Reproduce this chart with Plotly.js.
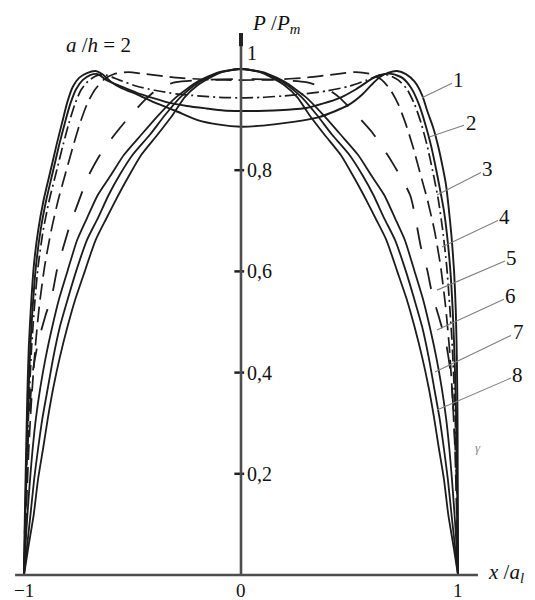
<!DOCTYPE html>
<html>
<head>
<meta charset="utf-8">
<script src="https://cdn.plot.ly/plotly-3.0.1.min.js"></script>
<style>
  html, body { margin: 0; padding: 0; background: #fff; }
  #chart { width: 535px; height: 600px; }
</style>
</head>
<body>
<div id="chart"></div>
<script>
// Pressure distribution P/Pm along x/a_l, a/h = 2, curves 1-8

// Curve 1: solid, outermost, deepest central dip
const c1x = [-1, -0.996, -0.99, -0.985, -0.978, -0.968, -0.955, -0.935, -0.91, -0.88, -0.85, -0.825, -0.8, -0.775, -0.745, -0.71, -0.67, -0.64, -0.6, -0.55, -0.48, -0.4, -0.3, -0.2, -0.1, 0,
             0.1, 0.18, 0.28, 0.36, 0.43, 0.5, 0.56, 0.6, 0.64, 0.68, 0.72, 0.76, 0.8, 0.835, 0.86, 0.885, 0.91, 0.93, 0.945, 0.956, 0.97, 0.982, 0.99, 0.995, 0.998, 1];
const c1y = [0, 0.12, 0.25, 0.35, 0.45, 0.53, 0.61, 0.68, 0.74, 0.795, 0.85, 0.893, 0.935, 0.965, 0.983, 0.992, 0.996, 0.99, 0.975, 0.962, 0.95, 0.934, 0.917, 0.899, 0.89, 0.886,
             0.888, 0.892, 0.898, 0.905, 0.916, 0.93, 0.95, 0.968, 0.984, 0.993, 0.996, 0.99, 0.975, 0.948, 0.915, 0.885, 0.845, 0.805, 0.77, 0.73, 0.67, 0.6, 0.52, 0.42, 0.3, 0];

// Curve 2: solid, second M-shaped curve
const c2x = [-1, -0.994, -0.987, -0.98, -0.971, -0.96, -0.945, -0.924, -0.898, -0.868, -0.838, -0.812, -0.786, -0.76, -0.73, -0.695, -0.66, -0.62, -0.55, -0.48, -0.4, -0.33, -0.25, -0.16, -0.08, 0,
             0.08, 0.15, 0.23, 0.3, 0.38, 0.456, 0.53, 0.608, 0.66, 0.7, 0.745, 0.785, 0.82, 0.85, 0.875, 0.9, 0.918, 0.935, 0.95, 0.965, 0.976, 0.985, 0.992, 0.997, 1];
const c2y = [0, 0.12, 0.25, 0.35, 0.45, 0.53, 0.61, 0.68, 0.74, 0.795, 0.85, 0.893, 0.932, 0.96, 0.978, 0.988, 0.99, 0.978, 0.965, 0.953, 0.942, 0.933, 0.927, 0.922, 0.918, 0.917,
             0.917, 0.918, 0.92, 0.923, 0.932, 0.943, 0.96, 0.982, 0.99, 0.99, 0.982, 0.962, 0.93, 0.89, 0.85, 0.8, 0.76, 0.72, 0.67, 0.6, 0.52, 0.42, 0.3, 0.15, 0];

// Curve 3: dash-dot
const c3x = [-1, -0.993, -0.985, -0.976, -0.965, -0.952, -0.935, -0.912, -0.884, -0.852, -0.82, -0.793, -0.766, -0.738, -0.705, -0.665, -0.62, -0.56, -0.48, -0.4, -0.3, -0.2, -0.1, 0,
             0.1, 0.2, 0.3, 0.4, 0.5, 0.58, 0.64, 0.68, 0.725, 0.765, 0.8, 0.83, 0.857, 0.885, 0.91, 0.93, 0.948, 0.962, 0.974, 0.984, 0.991, 0.996, 1];
const c3y = [0, 0.12, 0.25, 0.35, 0.45, 0.53, 0.61, 0.68, 0.74, 0.795, 0.85, 0.893, 0.93, 0.958, 0.976, 0.987, 0.988, 0.978, 0.966, 0.958, 0.951, 0.947, 0.944, 0.943,
             0.944, 0.947, 0.951, 0.957, 0.966, 0.978, 0.988, 0.988, 0.978, 0.96, 0.93, 0.893, 0.85, 0.795, 0.74, 0.68, 0.61, 0.53, 0.45, 0.35, 0.25, 0.12, 0];

// Curve 4: dashed, nearly flat top
const c4x = [-1, -0.99, -0.978, -0.965, -0.948, -0.93, -0.905, -0.875, -0.843, -0.808, -0.772, -0.742, -0.71, -0.675, -0.635, -0.585, -0.52, -0.44, -0.3, -0.15, 0,
             0.15, 0.3, 0.44, 0.53, 0.6, 0.65, 0.69, 0.725, 0.758, 0.79, 0.825, 0.86, 0.892, 0.92, 0.943, 0.96, 0.975, 0.986, 0.994, 1];
const c4y = [0, 0.12, 0.25, 0.35, 0.45, 0.53, 0.61, 0.68, 0.74, 0.795, 0.85, 0.893, 0.93, 0.958, 0.978, 0.99, 0.994, 0.99, 0.983, 0.979, 0.978,
             0.979, 0.983, 0.99, 0.994, 0.99, 0.978, 0.958, 0.93, 0.893, 0.85, 0.795, 0.74, 0.68, 0.61, 0.53, 0.45, 0.35, 0.25, 0.12, 0];

// Curve 5: long dashes, flat-topped bell
const c5x = [-1, -0.996, -0.988, -0.975, -0.96, -0.935, -0.903, -0.871, -0.848, -0.82, -0.788, -0.751, -0.705, -0.65, -0.59, -0.52, -0.44, -0.38, -0.3, -0.15, 0,
             0.15, 0.3, 0.4, 0.45, 0.502, 0.604, 0.696, 0.78, 0.83, 0.858, 0.882, 0.912, 0.944, 0.966, 0.98, 0.992, 1];
const c5y = [0, 0.1, 0.2, 0.32, 0.4, 0.46, 0.51, 0.553, 0.603, 0.646, 0.692, 0.735, 0.787, 0.83, 0.866, 0.903, 0.94, 0.962, 0.974, 0.979, 0.98,
             0.979, 0.974, 0.96, 0.945, 0.923, 0.875, 0.816, 0.75, 0.646, 0.603, 0.553, 0.51, 0.46, 0.4, 0.32, 0.2, 0];

// Curves 6-8: solid bell curves with the maximum at the centre
const c6x = [-1, -0.993, -0.984, -0.972, -0.96, -0.945, -0.925, -0.9, -0.87, -0.84, -0.8, -0.755, -0.71, -0.66, -0.6, -0.54, -0.46, -0.38, -0.3, -0.2, -0.1, 0,
             0.1, 0.2, 0.3, 0.38, 0.46, 0.54, 0.6, 0.66, 0.71, 0.755, 0.8, 0.84, 0.87, 0.9, 0.925, 0.945, 0.96, 0.972, 0.984, 0.993, 1];
const c6y = [0, 0.06, 0.12, 0.19, 0.25, 0.31, 0.37, 0.43, 0.49, 0.543, 0.6, 0.662, 0.705, 0.751, 0.79, 0.83, 0.87, 0.909, 0.944, 0.975, 0.994, 1,
             0.994, 0.975, 0.944, 0.909, 0.87, 0.83, 0.79, 0.751, 0.705, 0.662, 0.6, 0.543, 0.49, 0.43, 0.37, 0.31, 0.25, 0.19, 0.12, 0.06, 0];

const c7x = [-1, -0.985, -0.97, -0.953, -0.935, -0.915, -0.89, -0.865, -0.835, -0.8, -0.76, -0.71, -0.66, -0.61, -0.56, -0.5, -0.42, -0.35, -0.28, -0.2, -0.1, 0,
             0.1, 0.2, 0.28, 0.35, 0.42, 0.5, 0.56, 0.61, 0.66, 0.71, 0.76, 0.8, 0.835, 0.865, 0.89, 0.915, 0.935, 0.953, 0.97, 0.985, 1];
const c7y = [0, 0.06, 0.12, 0.19, 0.25, 0.31, 0.37, 0.43, 0.49, 0.543, 0.6, 0.662, 0.705, 0.751, 0.79, 0.83, 0.87, 0.909, 0.944, 0.972, 0.993, 1,
             0.993, 0.972, 0.944, 0.909, 0.87, 0.83, 0.79, 0.751, 0.705, 0.662, 0.6, 0.543, 0.49, 0.43, 0.37, 0.31, 0.25, 0.19, 0.12, 0.06, 0];

const c8x = [-1, -0.978, -0.955, -0.935, -0.912, -0.89, -0.865, -0.835, -0.8, -0.765, -0.72, -0.67, -0.62, -0.565, -0.515, -0.46, -0.385, -0.315, -0.26, -0.2, -0.1, 0,
             0.1, 0.2, 0.26, 0.315, 0.385, 0.46, 0.515, 0.565, 0.62, 0.67, 0.72, 0.765, 0.8, 0.835, 0.865, 0.89, 0.912, 0.935, 0.955, 0.978, 1];
const c8y = [0, 0.06, 0.12, 0.19, 0.25, 0.31, 0.37, 0.43, 0.49, 0.543, 0.6, 0.662, 0.705, 0.751, 0.79, 0.83, 0.87, 0.909, 0.944, 0.968, 0.992, 1,
             0.992, 0.968, 0.944, 0.909, 0.87, 0.83, 0.79, 0.751, 0.705, 0.662, 0.6, 0.543, 0.49, 0.43, 0.37, 0.31, 0.25, 0.19, 0.12, 0.06, 0];

// Curve numbers with the point each leader line touches and the label offset (px)
const curveNames = ['1', '2', '3', '4', '5', '6', '7', '8'];
const leaderX = [0.834, 0.871, 0.903, 0.926, 0.903, 0.903, 0.894, 0.903];
const leaderY = [0.943, 0.866, 0.751, 0.648, 0.563, 0.484, 0.401, 0.326];
const labelDx = [37, 41, 51, 63, 75, 74, 83, 81];
const labelDy = [-18, -14, -26, -30, -32, -34, -40, -35];

// Axis tick labels
const yTickVals = [0.2, 0.4, 0.6, 0.8];
const yTickText = ['0,2', '0,4', '0,6', '0,8'];
const yTopLabel = '1';
const xTickVals = [-1, 0, 1];
const xTickText = ['\u22121', '0', '1'];

const INK = '#1c1c1c';
const SERIF = "'Liberation Serif', 'Times New Roman', serif";

function curve(x, y, dash, width) {
  return {
    x: x, y: y, type: 'scatter', mode: 'lines',
    line: { color: INK, width: width || 1.8, dash: dash || 'solid', shape: 'spline', smoothing: 0.6 },
    hoverinfo: 'skip', showlegend: false
  };
}

const traces = [
  curve(c1x, c1y, 'solid', 1.9),
  curve(c2x, c2y, 'solid', 1.9),
  curve(c3x, c3y, '12px,4px,2px,4px', 1.7),
  curve(c4x, c4y, '16px,7px', 1.7),
  curve(c5x, c5y, '22px,19px', 1.8),
  curve(c6x, c6y, 'solid', 1.8),
  curve(c7x, c7y, 'solid', 1.8),
  curve(c8x, c8y, 'solid', 1.8),
  {
    // small ticks on the vertical axis
    x: yTickVals.map(() => -0.008), y: yTickVals, type: 'scatter', mode: 'markers',
    marker: { symbol: 'line-ew', size: 7, line: { color: '#222', width: 2.5 } },
    hoverinfo: 'skip', showlegend: false
  }
];

const annotations = [];

function note(x, y, text, size, xanchor, color, ref) {
  return {
    x: x, y: y, xref: ref ? 'paper' : 'x', yref: ref ? 'paper' : 'y', text: text, showarrow: false,
    xanchor: xanchor || 'center', yanchor: 'middle',
    font: { family: SERIF, size: size, color: color || '#111' }
  };
}

// y tick labels, to the right of the axis
yTickVals.forEach((v, i) => annotations.push(note(0.02, v, yTickText[i], 20, 'left')));
// the "1" label at the top of the P/Pm axis
annotations.push(note(0.02, 1.031, yTopLabel, 20, 'left'));

// x tick labels under the axis
xTickVals.forEach((v, i) => annotations.push(note(v, -0.03, xTickText[i], 19, 'center')));

// curve numbers with leader lines
curveNames.forEach((name, i) => {
  annotations.push({ x: leaderX[i], y: leaderY[i], xref: 'x', yref: 'y', text: name,
    showarrow: true, arrowhead: 0, arrowwidth: 1.1, arrowcolor: '#808080', standoff: 0,
    ax: labelDx[i], ay: labelDy[i], font: { family: SERIF, size: 21, color: '#111' } });
});

// axis names and parameter
annotations.push(note(276 / 535, 1 - 24 / 600, '<i>P</i> /<i>P</i><sub><i>m</i></sub>', 21, 'center', '#111', true));
annotations.push(note(98 / 535, 1 - 45 / 600, '<i>a</i> /<i>h</i> = 2', 21, 'center', '#111', true));
annotations.push(note(506 / 535, 1 - 573 / 600, '<i>x</i> /<i>a</i><sub><i>l</i></sub>', 21, 'center', '#111', true));
annotations.push(note(478 / 535, 1 - 447 / 600, '<i>\u03b3</i>', 13, 'center', '#888', true));

const shapes = [
  // horizontal axis
  { type: 'line', xref: 'x', yref: 'y', x0: -1.041, y0: 0, x1: 1.092, y1: 0,
    line: { color: '#4d4d4d', width: 2.6 } },
  // vertical axis
  { type: 'line', xref: 'x', yref: 'y', x0: 0, y0: 0, x1: 0, y1: 1.071,
    line: { color: '#4d4d4d', width: 2.6 } },
  // arrow tip of the vertical axis
  { type: 'line', xref: 'x', yref: 'y', x0: 0, y0: 1.045, x1: 0, y1: 1.071,
    line: { color: '#222', width: 4 } }
];

const layout = {
  width: 535, height: 600,
  margin: { l: 0, r: 0, t: 0, b: 0 },
  paper_bgcolor: '#fff', plot_bgcolor: '#fff',
  showlegend: false,
  xaxis: { range: [-241 / 217, 294 / 217], visible: false, fixedrange: true },
  yaxis: { range: [-25 / 506, 575 / 506], visible: false, fixedrange: true },
  shapes: shapes,
  annotations: annotations,
  hovermode: false
};

Plotly.newPlot('chart', traces, layout, { staticPlot: true, displayModeBar: false });
</script>
</body>
</html>
